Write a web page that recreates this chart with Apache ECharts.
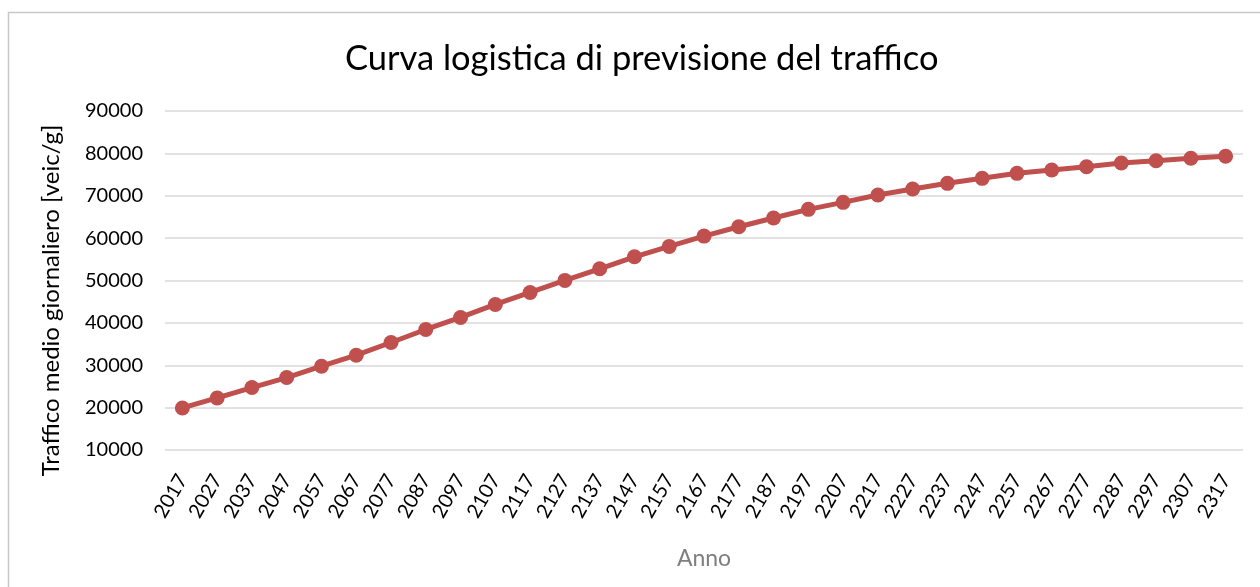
<!DOCTYPE html>
<html>
<head>
<meta charset="utf-8">
<script src="https://cdn.jsdelivr.net/npm/echarts@6/dist/echarts.min.js"></script>
<style>
  html, body { margin: 0; padding: 0; background: #fff; }
</style>
</head>
<body>
<div id="myChart" style="width:1260px;height:587px;"></div>
<script>
// anni (ogni 10 anni)
var anni = ['2017','2027','2037','2047','2057','2067','2077','2087','2097','2107',
            '2117','2127','2137','2147','2157','2167','2177','2187','2197','2207',
            '2217','2227','2237','2247','2257','2267','2277','2287','2297','2307','2317'];
// traffico medio giornaliero [veic/g]
var traffico = [19920, 22280, 24740, 27100, 29770, 32370, 35370, 38440, 41280, 44350,
                47180, 50020, 52760, 55590, 58050, 60480, 62680, 64740, 66790, 68440,
                70170, 71590, 72930, 74110, 75290, 76070, 76860, 77730, 78270, 78840, 79310];
var yMin = 10000, yMax = 90000, yStep = 10000;

var myChart = echarts.init(document.getElementById('myChart'));
var font = 'Lato, "Open Sans", sans-serif';

var option = {
  backgroundColor: '#fff',
  animation: false,
  title: {
    text: 'Curva logistica di previsione del traffico',
    left: 340,
    top: 36,
    textStyle: { fontFamily: font, fontSize: 34.5, fontWeight: 'normal', color: '#000' }
  },
  // cornice grigia del grafico
  graphic: [{
    type: 'rect',
    shape: { x: 8.5, y: 12.5, width: 1300, height: 700 },
    style: { fill: 'none', stroke: '#c8c8c8', lineWidth: 1.5 },
    silent: true
  }],
  grid: { left: 165, right: 17, top: 111, bottom: 137 },
  xAxis: {
    type: 'category',
    data: anni,
    boundaryGap: true,
    name: 'Anno',
    nameLocation: 'middle',
    nameGap: 97,
    nameTextStyle: { fontFamily: font, fontSize: 23, color: '#7f7f7f' },
    axisLine: { show: false },
    axisTick: { show: false },
    axisLabel: { rotate: 60, fontFamily: font, fontSize: 20, color: '#000', margin: 26, interval: 0 }
  },
  yAxis: {
    type: 'value',
    min: yMin,
    max: yMax,
    interval: yStep,
    name: 'Traffico medio giornaliero [veic/g]',
    nameLocation: 'middle',
    nameGap: 102,
    nameTextStyle: { fontFamily: font, fontSize: 24, color: '#000', padding: [0, 40, 0, 0] },
    axisLine: { show: false },
    axisTick: { show: false },
    axisLabel: {
      fontFamily: font, fontSize: 20, color: '#000', margin: 22,
      formatter: function (v) { return String(v); }
    },
    splitLine: { lineStyle: { color: '#d9d9d9', width: 1.5 } }
  },
  series: [{
    type: 'line',
    data: traffico,
    symbol: 'circle',
    symbolSize: 15,
    lineStyle: { color: '#c0504d', width: 5 },
    itemStyle: { color: '#c0504d' }
  }]
};
myChart.setOption(option);
window.onresize = myChart.resize;
</script>
</body>
</html>
